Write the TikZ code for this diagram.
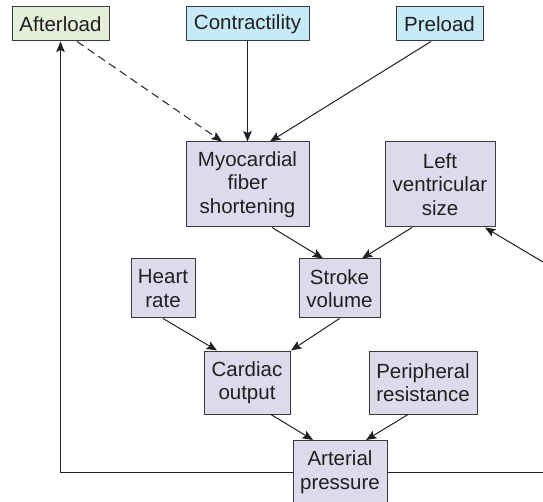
\documentclass[tikz,border=0pt]{standalone}
\usepackage{fontspec}
\setmainfont{Liberation Sans}
\usetikzlibrary{arrows.meta,calc}
\definecolor{gfill}{HTML}{E2EFD9}
\definecolor{bfill}{HTML}{C6EAF8}
\definecolor{pfill}{HTML}{DDDAEC}
\definecolor{edge}{HTML}{3A3A3A}
\definecolor{txt}{HTML}{231F20}
\tikzset{
  box/.style={draw=edge, line width=1pt, inner sep=0pt, align=center,
    text=txt, font=\fontsize{20.5}{23.5}\selectfont},
  gbox/.style={box, fill=gfill},
  bbox/.style={box, fill=bfill},
  pbox/.style={box, fill=pfill},
  conn/.style={draw=txt, line width=1pt, -{Stealth[length=10.5pt,width=8.5pt,inset=2pt]}},
  plain/.style={draw=txt, line width=1pt}
}
\begin{document}
\begin{tikzpicture}[x=1pt,y=-1pt]
\useasboundingbox (0,0) rectangle (543,502);
\clip (0,0) rectangle (543,502);
\node[gbox, minimum width=97pt, minimum height=34pt] (after) at (60.5,24) {Afterload};
\node[bbox, minimum width=123pt, minimum height=34pt] (contr) at (247.5,24) {Contractility};
\node[bbox, minimum width=87pt, minimum height=34pt] (pre) at (439.5,24) {Preload};
\node[pbox, minimum width=123pt, minimum height=85pt] (myo) at (247.5,184.5) {Myocardial\\fiber\\shortening};
\node[pbox, minimum width=110pt, minimum height=85pt] (lv) at (440,184.5) {Left\\ventricular\\size};
\node[pbox, minimum width=64pt, minimum height=59pt] (hr) at (163,288.5) {Heart\\rate};
\node[pbox, minimum width=81pt, minimum height=59pt] (sv) at (339.5,288.5) {Stroke\\volume};
\node[pbox, minimum width=86pt, minimum height=63pt] (co) at (247,382.5) {Cardiac\\output};
\node[pbox, minimum width=108pt, minimum height=63pt] (pr) at (423,382.5) {Peripheral\\resistance};
\node[pbox, minimum width=94pt, minimum height=63pt] (ap) at (340,472) {Arterial\\pressure};
\coordinate (redge) at (550,0);
\coordinate (lvin) at (553,268);

\draw[conn, dashed, dash pattern=on 8pt off 5pt] ([xshift=16.5pt]after.south) -- ([xshift=-25.5pt]myo.north);
\draw[conn] (contr.south) -- (myo.north);
\draw[conn] ([xshift=-8.5pt]pre.south) -- ([xshift=22.5pt]myo.north);
\draw[conn] ([xshift=24.5pt]myo.south) -- ([xshift=-16.5pt]sv.north);
\draw[conn] ([xshift=-28pt]lv.south) -- ([xshift=22.5pt]sv.north);
\draw[conn] (hr.south) -- ([xshift=-30pt]co.north);
\draw[conn] (sv.south) -- ([xshift=44pt]co.north);
\draw[conn] ([xshift=24pt]co.south) -- ([xshift=-27pt]ap.north);
\draw[conn] ([xshift=-15pt]pr.south) -- ([xshift=26pt]ap.north);
\draw[conn] (ap.west) -| (after.south);
\draw[plain] (ap.east) -- (ap.east -| redge);
\draw[conn] (lvin) -- ([xshift=45pt]lv.south);
\end{tikzpicture}
\end{document}
